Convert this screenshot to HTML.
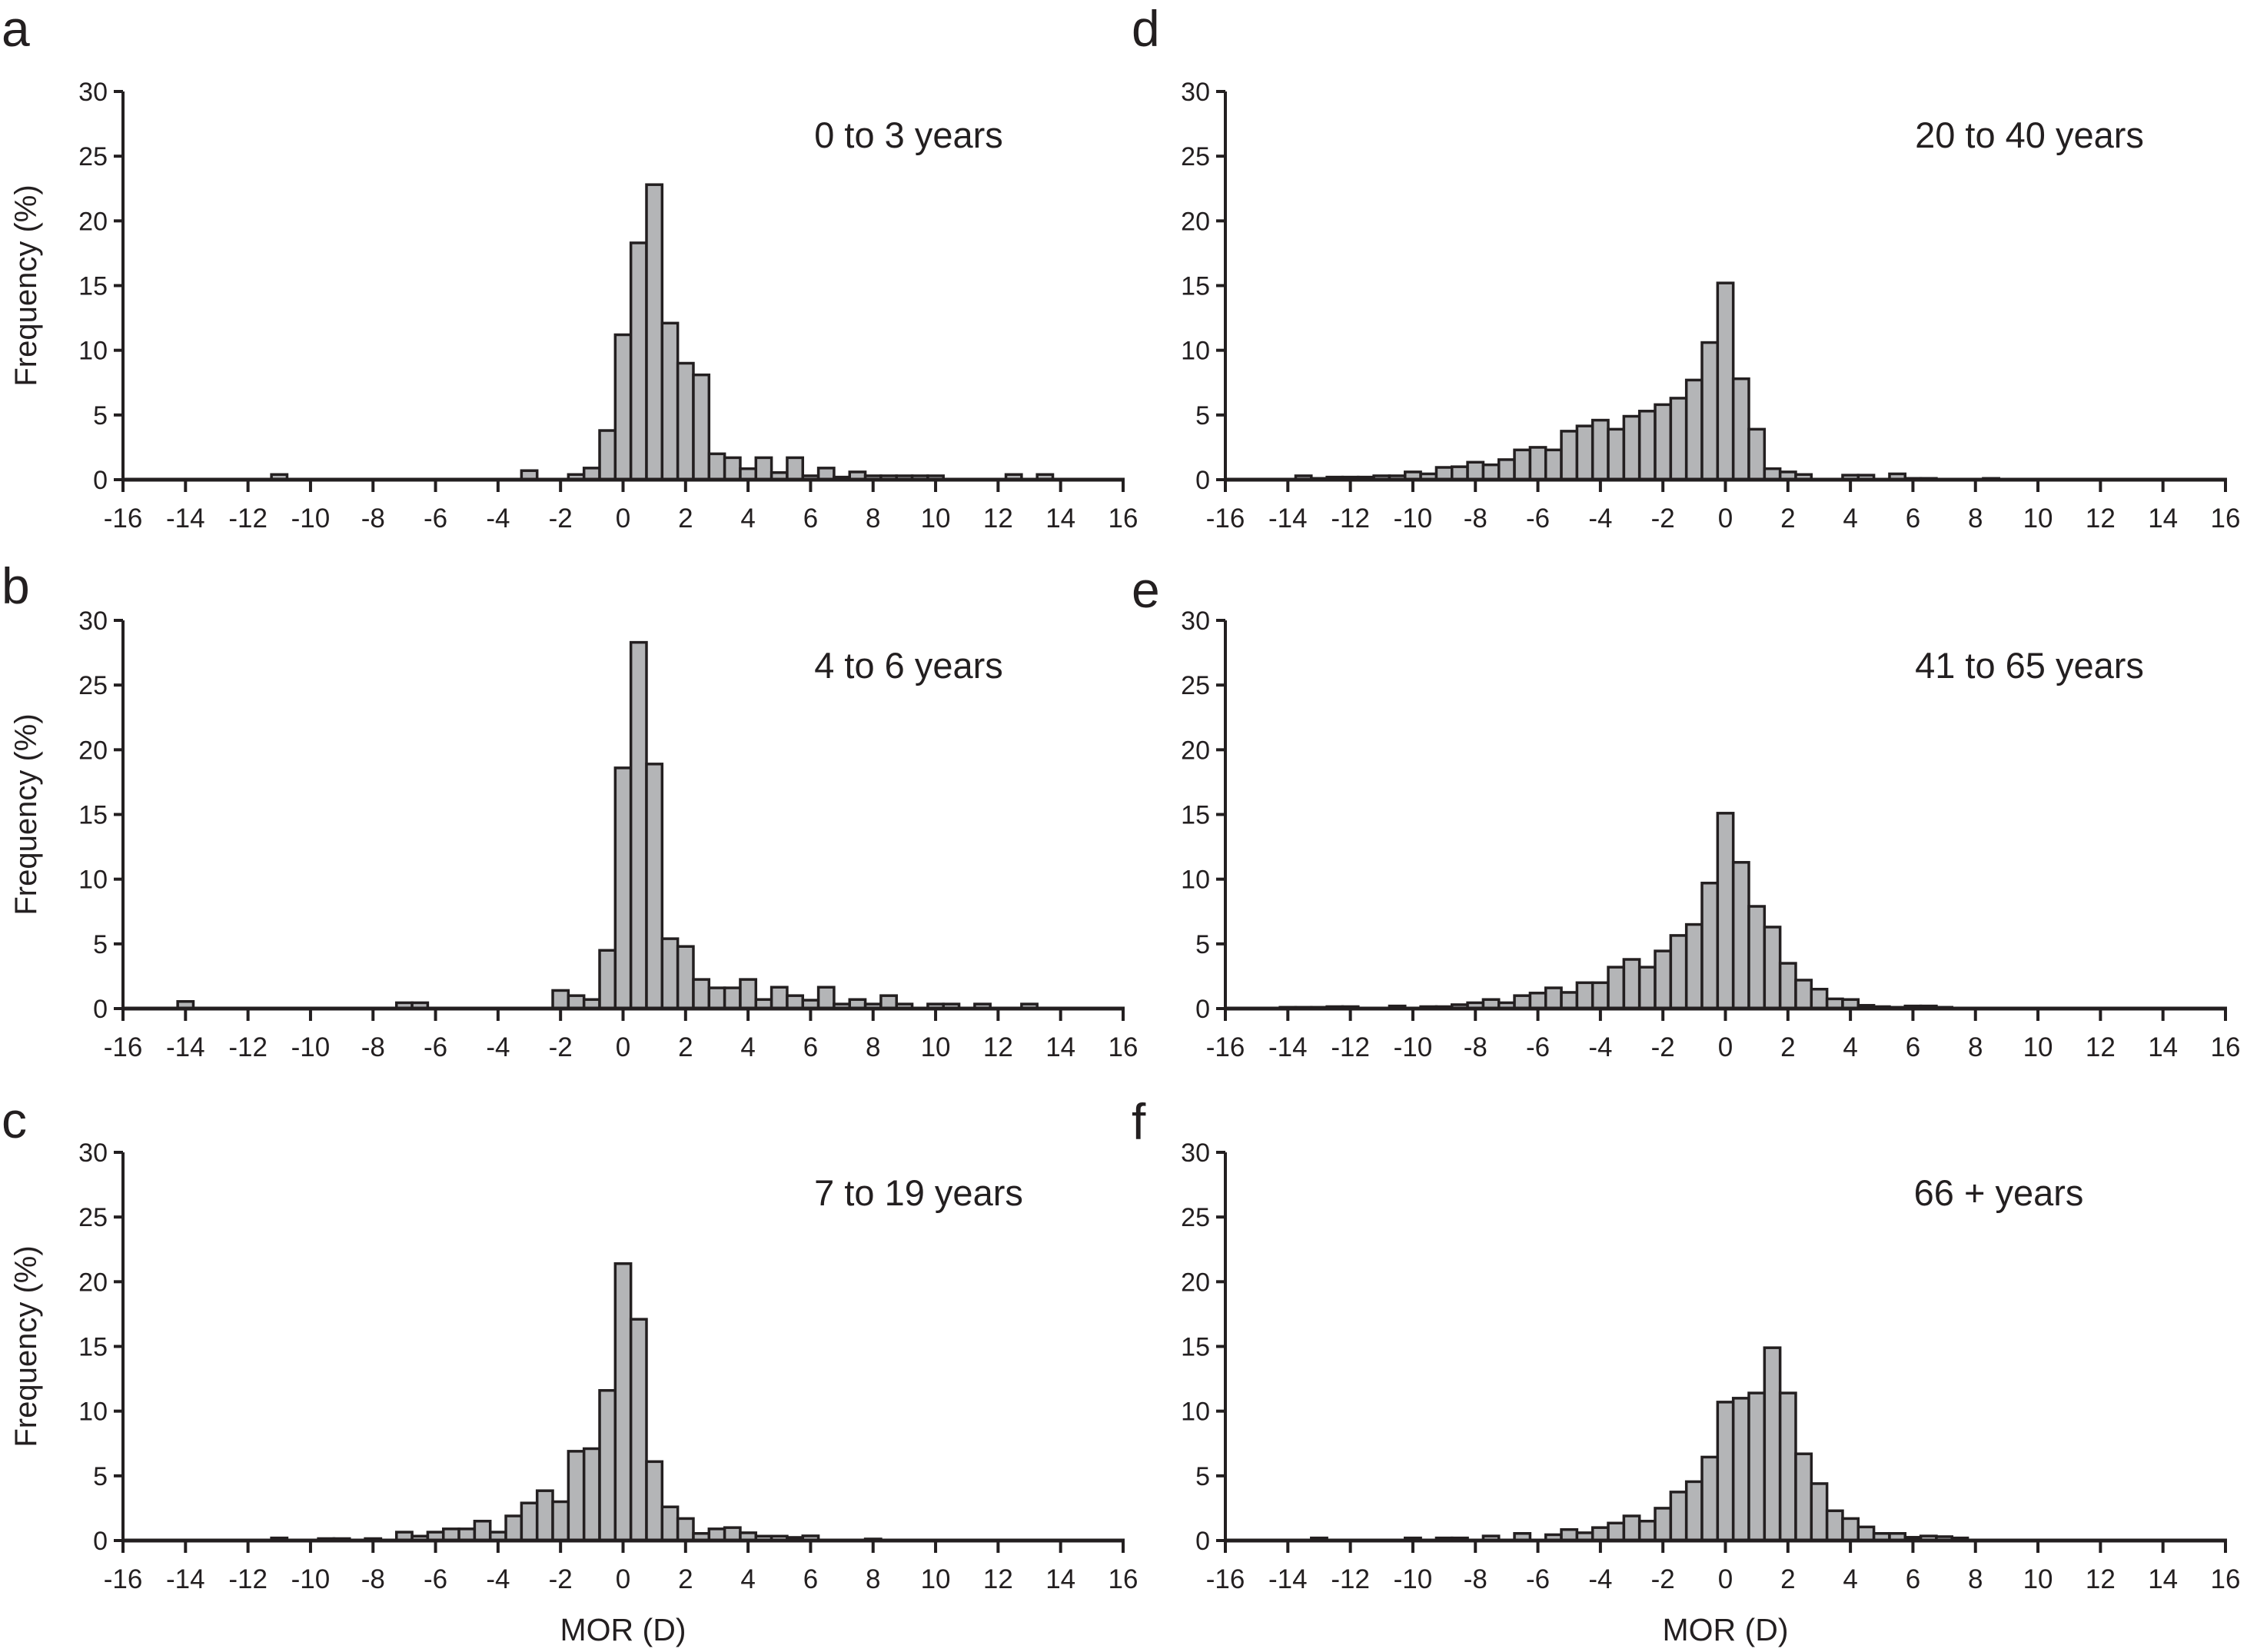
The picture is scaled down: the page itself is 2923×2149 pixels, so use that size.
<!DOCTYPE html>
<html><head><meta charset="utf-8"><style>
html,body{margin:0;padding:0;background:#fff;}
svg{display:block;}
text{font-family:"Liberation Sans",Arial,sans-serif;fill:#231f20;}
</style></head><body>
<svg id="fig" width="2923" height="2149" viewBox="0 0 2923 2149" xmlns="http://www.w3.org/2000/svg"></svg>
<script>
// bin centers (D) and frequencies (%) per panel
const binsA = [-11,-3,-1.5,-1,-0.5,0,0.5,1,1.5,2,2.5,3,3.5,4,4.5,5,5.5,6,6.5,7,7.5,8,8.5,9,9.5,10,12.5,13.5];
const valsA = [0.4,0.7,0.4,0.9,3.8,11.2,18.3,22.8,12.1,9.0,8.1,2.0,1.7,0.85,1.7,0.55,1.7,0.3,0.9,0.2,0.6,0.3,0.3,0.3,0.3,0.3,0.4,0.4];
const binsB = [-14,-7,-6.5,-2,-1.5,-1,-0.5,0,0.5,1,1.5,2,2.5,3,3.5,4,4.5,5,5.5,6,6.5,7,7.5,8,8.5,9,10,10.5,11.5,13];
const valsB = [0.55,0.45,0.45,1.4,1.0,0.7,4.5,18.6,28.3,18.9,5.4,4.8,2.25,1.6,1.6,2.25,0.7,1.65,1.0,0.65,1.65,0.35,0.7,0.35,1.0,0.35,0.35,0.35,0.35,0.35];
const binsC = [-11,-9.5,-9,-8,-7,-6.5,-6,-5.5,-5,-4.5,-4,-3.5,-3,-2.5,-2,-1.5,-1,-0.5,0,0.5,1,1.5,2,2.5,3,3.5,4,4.5,5,5.5,6,8];
const valsC = [0.2,0.15,0.15,0.15,0.65,0.34,0.65,0.9,0.9,1.5,0.65,1.9,2.9,3.85,3.0,6.9,7.1,11.6,21.4,17.1,6.1,2.6,1.7,0.55,0.9,1.0,0.6,0.34,0.34,0.24,0.36,0.12];
const binsD = [-13.5,-13,-12.5,-12,-11.5,-11,-10.5,-10,-9.5,-9,-8.5,-8,-7.5,-7,-6.5,-6,-5.5,-5,-4.5,-4,-3.5,-3,-2.5,-2,-1.5,-1,-0.5,0,0.5,1,1.5,2,2.5,4,4.5,5.5,6,6.5,8.5];
const valsD = [0.3,0.1,0.2,0.2,0.2,0.3,0.3,0.6,0.45,0.95,1.0,1.35,1.15,1.55,2.3,2.5,2.3,3.75,4.15,4.6,3.9,4.9,5.3,5.8,6.3,7.7,10.6,15.2,7.8,3.9,0.85,0.6,0.4,0.35,0.35,0.45,0.1,0.1,0.1];
const binsE = [-14,-13.5,-13,-12.5,-12,-10.5,-9.5,-9,-8.5,-8,-7.5,-7,-6.5,-6,-5.5,-5,-4.5,-4,-3.5,-3,-2.5,-2,-1.5,-1,-0.5,0,0.5,1,1.5,2,2.5,3,3.5,4,4.5,5,5.5,6,6.5,7];
const valsE = [0.1,0.1,0.1,0.15,0.15,0.2,0.15,0.15,0.3,0.45,0.7,0.45,1.0,1.2,1.6,1.25,2.0,2.0,3.2,3.8,3.2,4.45,5.65,6.5,9.7,15.1,11.3,7.9,6.3,3.5,2.2,1.5,0.75,0.7,0.25,0.15,0.1,0.2,0.2,0.1];
const binsF = [-13,-10,-9,-8.5,-7.5,-6.5,-5.5,-5,-4.5,-4,-3.5,-3,-2.5,-2,-1.5,-1,-0.5,0,0.5,1,1.5,2,2.5,3,3.5,4,4.5,5,5.5,6,6.5,7,7.5];
const valsF = [0.2,0.2,0.2,0.2,0.35,0.55,0.45,0.85,0.6,1.0,1.35,1.9,1.5,2.5,3.75,4.55,6.45,10.7,11.0,11.4,14.9,11.4,6.7,4.4,2.3,1.7,1.05,0.55,0.55,0.25,0.35,0.3,0.2];
const xTicks = [-16,-14,-12,-10,-8,-6,-4,-2,0,2,4,6,8,10,12,14,16];
const yTicks = [0,5,10,15,20,25,30];
const panelLetters = ["a","b","c","d","e","f"];
const panelTitles = ["0 to 3 years","4 to 6 years","7 to 19 years","20 to 40 years","41 to 65 years","66 + years"];

const NS = "http://www.w3.org/2000/svg";
const svg = document.getElementById("fig");
function mk(tag, attrs, parent){
  const e = document.createElementNS(NS, tag);
  for (const k in attrs) e.setAttribute(k, attrs[k]);
  (parent||svg).appendChild(e);
  return e;
}
const panels = [
  {bins:binsA, vals:valsA, x0:160, y0:624, tx:1182, ty:192, lx:2, ly:60},
  {bins:binsB, vals:valsB, x0:160, y0:1312, tx:1182, ty:882, lx:2, ly:785},
  {bins:binsC, vals:valsC, x0:160, y0:2004, tx:1195, ty:1568, lx:2, ly:1480},
  {bins:binsD, vals:valsD, x0:1594, y0:624, tx:2640, ty:192, lx:1472, ly:60},
  {bins:binsE, vals:valsE, x0:1594, y0:1312, tx:2640, ty:882, lx:1472, ly:790},
  {bins:binsF, vals:valsF, x0:1594, y0:2004, tx:2600, ty:1568, lx:1472, ly:1482}
];
const W = 1301, H = 505;
panels.forEach((p, i) => {
  const g = mk("g", {});
  
  
  const xs = v => p.x0 + (v + 16) / 32 * W;
  const ys = v => p.y0 - v / 30 * H;
  p.bins.forEach((b, j) => {
    const r = mk("rect", {x: xs(b - 0.25), y: ys(p.vals[j]), width: xs(b + 0.25) - xs(b - 0.25), height: p.y0 - ys(p.vals[j]), fill: "#b4b5b7", stroke: "#231f20", "stroke-width": 3.5}, g);
    
    
  });
  const xa = mk("line", {x1: p.x0, y1: p.y0, x2: p.x0 + W + 2, y2: p.y0, stroke: "#231f20", "stroke-width": 5}, g);
  
  
  const ya = mk("line", {x1: p.x0, y1: p.y0 + 2, x2: p.x0, y2: p.y0 - H, stroke: "#231f20", "stroke-width": 4}, g);
  
  
  xTicks.forEach(t => {
    mk("line", {x1: xs(t), y1: p.y0, x2: xs(t), y2: p.y0 + 16, stroke: "#231f20", "stroke-width": 4}, g);
    const tl = mk("text", {x: xs(t), y: p.y0 + 62, "font-size": 35, "text-anchor": "middle"}, g);
    tl.textContent = t;
    
    
  });
  yTicks.forEach(t => {
    mk("line", {x1: p.x0 - 12, y1: ys(t), x2: p.x0, y2: ys(t), stroke: "#231f20", "stroke-width": 4}, g);
    const tl = mk("text", {x: p.x0 - 20, y: ys(t) + 12, "font-size": 34, "text-anchor": "end"}, g);
    tl.textContent = t;
    
    
  });
  const tt = mk("text", {x: p.tx, y: p.ty, "font-size": 47, "text-anchor": "middle"}, g);
  tt.textContent = panelTitles[i];
  
  
  const lt = mk("text", {x: p.lx, y: p.ly, "font-size": 66}, g);
  lt.textContent = panelLetters[i];
  
  
  if (i < 3) {
    const yl = mk("text", {x: 0, y: 0, "font-size": 40, "text-anchor": "middle", transform: "translate(47," + (p.y0 - H/2) + ") rotate(-90)"}, g);
    yl.textContent = "Frequency (%)";
    
    
  }
  if (i === 2 || i === 5) {
    const xl = mk("text", {x: p.x0 + W/2, y: 2134, "font-size": 41, "text-anchor": "middle"}, g);
    xl.textContent = "MOR (D)";
    
    
  }
});
</script>
</body></html>
